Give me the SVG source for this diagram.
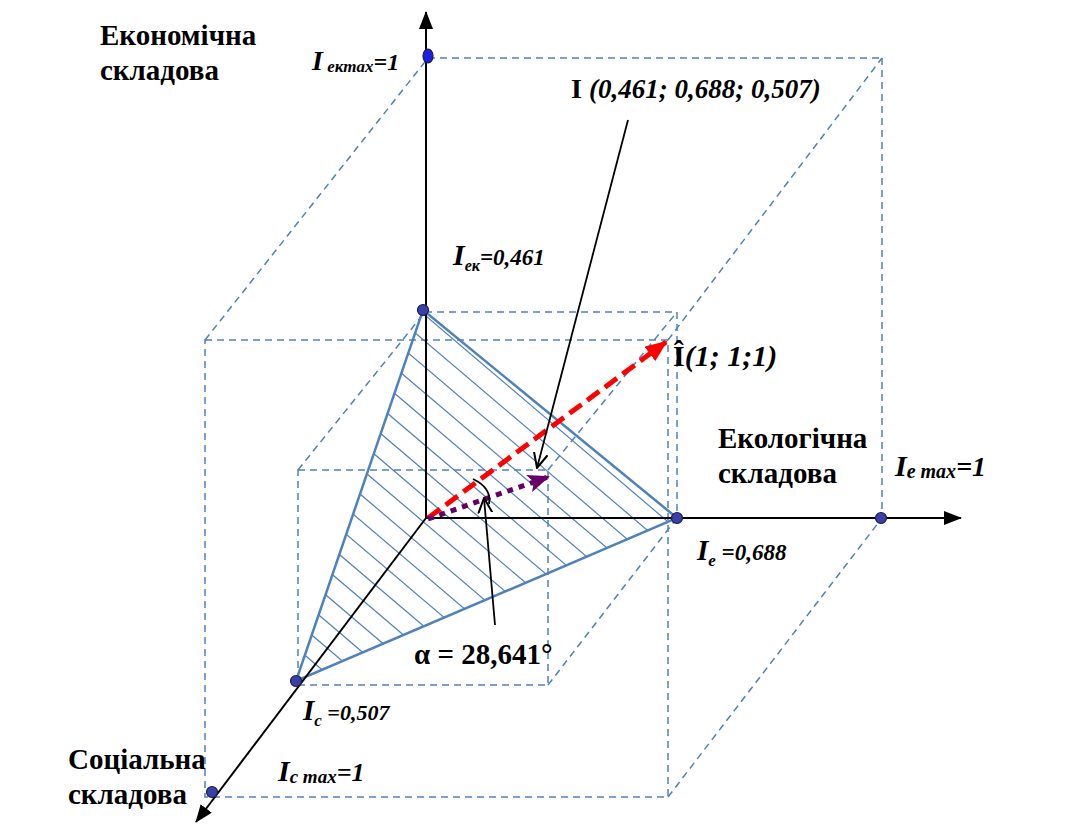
<svg xmlns="http://www.w3.org/2000/svg" width="1068" height="825" viewBox="0 0 1068 825">
<style>
.ax{stroke:#000;stroke-width:2;fill:none}
.dash{stroke:#4f81bd;stroke-width:1.5;stroke-dasharray:7 5;fill:none}
.tri{stroke:#4f81bd;stroke-width:2.5;fill:none}
.hatch{stroke:#4f81bd;stroke-width:1.2}
.dot{fill:#3b3fa8;stroke:#1c1c4a;stroke-width:1.2}
</style>
<defs>
<marker id="ahBig" markerWidth="18" markerHeight="14" refX="17" refY="7" orient="auto" markerUnits="userSpaceOnUse" viewBox="0 0 18 14"><path d="M0,0 L18,7 L0,14 z" fill="#000"/></marker>
<marker id="open" markerWidth="16" markerHeight="16" refX="15" refY="8" orient="auto" markerUnits="userSpaceOnUse" viewBox="0 0 16 16"><path d="M0,1 L15,8 L0,15" fill="none" stroke="#000" stroke-width="2"/></marker>
<marker id="red" markerWidth="22" markerHeight="18" refX="20" refY="9" orient="auto" markerUnits="userSpaceOnUse" viewBox="0 0 22 18"><path d="M0,0 L22,9 L0,18 z" fill="#ff0000"/></marker>
<marker id="pur" markerWidth="22" markerHeight="18" refX="20" refY="9" orient="auto" markerUnits="userSpaceOnUse" viewBox="0 0 22 18"><path d="M0,0 L22,9 L0,18 L5,9 z" fill="#660066"/></marker>
<clipPath id="triClip"><polygon points="423,310 677,518 296,681"/></clipPath>
</defs>

<g id="cube-large">
<line class="dash" x1="428" y1="58" x2="882" y2="58"/>
<line class="dash" x1="882" y1="58" x2="882" y2="518"/>
<rect class="dash" x="205" y="340" width="463" height="457"/>
<line class="dash" x1="205" y1="340" x2="428" y2="58"/>
<line class="dash" x1="668" y1="340" x2="882" y2="58"/>
<line class="dash" x1="668" y1="797" x2="882" y2="518"/>
</g>

<g id="cube-small">
<line class="dash" x1="425" y1="312" x2="677" y2="312"/>
<line class="dash" x1="677" y1="312" x2="677" y2="518"/>
<rect class="dash" x="298" y="470" width="250" height="215"/>
<line class="dash" x1="298" y1="470" x2="425" y2="312"/>
<line class="dash" x1="548" y1="470" x2="677" y2="312"/>
<line class="dash" x1="548" y1="685" x2="677" y2="518"/>
</g>

<g id="triangle">
<g clip-path="url(#triClip)">
<line class="hatch" x1="200" y1="20" x2="800" y2="530"/>
<line class="hatch" x1="200" y1="46" x2="800" y2="556"/>
<line class="hatch" x1="200" y1="72" x2="800" y2="582"/>
<line class="hatch" x1="200" y1="98" x2="800" y2="608"/>
<line class="hatch" x1="200" y1="124" x2="800" y2="634"/>
<line class="hatch" x1="200" y1="150" x2="800" y2="660"/>
<line class="hatch" x1="200" y1="176" x2="800" y2="686"/>
<line class="hatch" x1="200" y1="202" x2="800" y2="712"/>
<line class="hatch" x1="200" y1="228" x2="800" y2="738"/>
<line class="hatch" x1="200" y1="254" x2="800" y2="764"/>
<line class="hatch" x1="200" y1="280" x2="800" y2="790"/>
<line class="hatch" x1="200" y1="306" x2="800" y2="816"/>
<line class="hatch" x1="200" y1="332" x2="800" y2="842"/>
<line class="hatch" x1="200" y1="358" x2="800" y2="868"/>
<line class="hatch" x1="200" y1="384" x2="800" y2="894"/>
<line class="hatch" x1="200" y1="410" x2="800" y2="920"/>
<line class="hatch" x1="200" y1="436" x2="800" y2="946"/>
<line class="hatch" x1="200" y1="462" x2="800" y2="972"/>
<line class="hatch" x1="200" y1="488" x2="800" y2="998"/>
<line class="hatch" x1="200" y1="514" x2="800" y2="1024"/>
<line class="hatch" x1="200" y1="540" x2="800" y2="1050"/>
<line class="hatch" x1="200" y1="566" x2="800" y2="1076"/>
<line class="hatch" x1="200" y1="592" x2="800" y2="1102"/>
<line class="hatch" x1="200" y1="618" x2="800" y2="1128"/>
<line class="hatch" x1="200" y1="644" x2="800" y2="1154"/>
</g>
<polygon class="tri" points="423,310 677,518 296,681"/>
</g>

<g id="axes">
<line class="ax" x1="426" y1="518" x2="426" y2="12" marker-end="url(#ahBig)"/>
<line class="ax" x1="426" y1="518" x2="961" y2="518" marker-end="url(#ahBig)"/>
<line class="ax" x1="426" y1="518" x2="196" y2="822" marker-end="url(#ahBig)"/>
</g>

<g id="connectors">
<line x1="428" y1="518" x2="666" y2="342" stroke="#ff0000" stroke-width="5" stroke-dasharray="15 7" marker-end="url(#red)"/>
<line x1="428" y1="519" x2="548" y2="477" stroke="#660066" stroke-width="5" stroke-dasharray="6 6" marker-end="url(#pur)"/>
<line x1="628" y1="120" x2="537" y2="468" stroke="#000" stroke-width="1.8" marker-end="url(#open)"/>
<line x1="495" y1="625" x2="484" y2="498" stroke="#000" stroke-width="1.8" marker-end="url(#open)"/>
<path d="M473,479 Q492,488 489,504" stroke="#000" stroke-width="1.8" fill="none"/>
</g>

<g id="points">
<ellipse cx="428" cy="56" rx="5" ry="7" fill="#1f1fe0" stroke="#1c1c4a" stroke-width="1.2"/>
<circle id="p-ek" class="dot" cx="423" cy="310" r="5.5"/>
<circle id="p-e" class="dot" cx="677" cy="518" r="5.5"/>
<circle id="p-emax" class="dot" cx="881" cy="518" r="5.5"/>
<circle id="p-c" class="dot" cx="296" cy="681" r="5.5"/>
<circle id="p-cmax" class="dot" cx="212" cy="792" r="5.5"/>
</g>

<g id="labels" font-family="'Liberation Serif', 'Times New Roman', serif" font-weight="bold" fill="#000">
<text x="100" y="45" font-size="29">Економічна</text>
<text x="100" y="80" font-size="29">складова</text>
<text x="312" y="70" font-size="28" font-style="italic">I<tspan font-size="17" dy="2"> екmax</tspan><tspan font-size="24" dy="-2">=1</tspan></text>
<text x="571" y="98" font-size="28">I <tspan font-style="italic" font-size="27">(0,461; 0,688; 0,507)</tspan></text>
<text x="453" y="265" font-size="30" font-style="italic">I<tspan font-size="16" dy="6">ек</tspan><tspan font-size="23" dy="-6">=0,461</tspan></text>
<text x="673" y="366" font-size="30">Î<tspan font-style="italic">(1; 1;1)</tspan></text>
<text x="718" y="448" font-size="29">Екологічна</text>
<text x="718" y="483" font-size="29">складова</text>
<text x="895" y="476" font-size="30" font-style="italic">I<tspan font-size="20" dy="2">e max</tspan><tspan font-size="28" dy="-2">=1</tspan></text>
<text x="697" y="560" font-size="29" font-style="italic">I<tspan font-size="17" dy="6">e</tspan><tspan font-size="23" dy="-6"> =0,688</tspan></text>
<text x="414" y="664" font-size="29">α = 28,641°</text>
<text x="303" y="720" font-size="29" font-style="italic">I<tspan font-size="17" dy="6">c</tspan><tspan font-size="22" dy="-6"> =0,507</tspan></text>
<text x="68" y="769" font-size="29">Соціальна</text>
<text x="68" y="804" font-size="29">складова</text>
<text x="278" y="781" font-size="30" font-style="italic">I<tspan font-size="19" dy="2">c max</tspan><tspan font-size="26" dy="-2">=1</tspan></text>
</g>
</svg>
